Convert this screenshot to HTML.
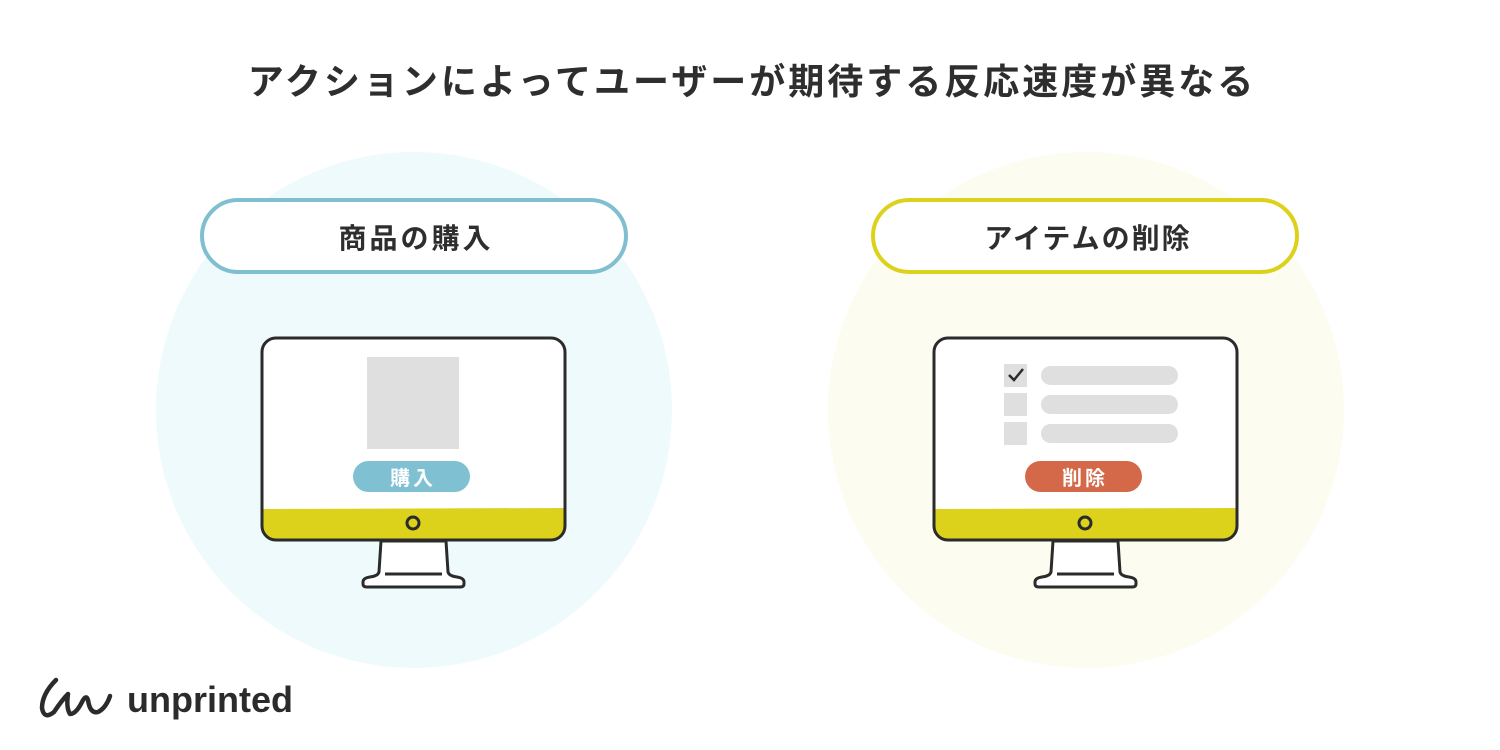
<!DOCTYPE html>
<html><head><meta charset="utf-8"><style>
body{margin:0;width:1500px;height:750px;background:#fff;overflow:hidden;font-family:"Liberation Sans","Noto Sans CJK JP",sans-serif}
</style></head><body>
<svg width="1500" height="750" xmlns="http://www.w3.org/2000/svg" style="position:absolute;left:0;top:0">
<text x="752" y="94" text-anchor="middle" font-size="36" font-weight="bold" fill="#2e2e2e" font-family="Liberation Sans, Noto Sans CJK JP, sans-serif" letter-spacing="3">アクションによってユーザーが期待する反応速度が異なる</text>
<circle cx="414" cy="410" r="258" fill="#effafc"/>
<circle cx="1086" cy="410" r="258" fill="#fcfcf1"/>
<rect x="202" y="200" width="424" height="72" rx="36" fill="#fff" stroke="#7fbfd0" stroke-width="4"/>
<rect x="873" y="200" width="424" height="72" rx="36" fill="#fff" stroke="#dcd21c" stroke-width="4"/>
<text x="416" y="248" text-anchor="middle" font-size="28" font-weight="bold" fill="#2e2e2e" font-family="Liberation Sans, Noto Sans CJK JP, sans-serif" letter-spacing="3">商品の購入</text>
<text x="1088" y="248" text-anchor="middle" font-size="28" font-weight="bold" fill="#2e2e2e" font-family="Liberation Sans, Noto Sans CJK JP, sans-serif" letter-spacing="2">アイテムの削除</text>
<g id="mon">
<path d="M381 541 L379 572 Q378 576 370 577 Q363 578 363 582 L363 584 Q363 587 367 587 L460 587 Q464 587 464 584 L464 582 Q464 578 457 577 Q449 576 448 572 L446 541 Z" fill="#fff" stroke="#2b2b2b" stroke-width="3"/>
<line x1="385" y1="574" x2="442" y2="574" stroke="#2b2b2b" stroke-width="3"/>
<rect x="262" y="338" width="303" height="202" rx="14" fill="#fff"/>
<path d="M262 509 L565 508 L565 526 Q565 540 551 540 L276 540 Q262 540 262 526 Z" fill="#dcd21c"/>
<rect x="262" y="338" width="303" height="202" rx="14" fill="none" stroke="#2b2b2b" stroke-width="3"/>
<circle cx="413" cy="523" r="6" fill="none" stroke="#2b2b2b" stroke-width="3"/>
</g>
<use href="#mon" x="672"/>
<rect x="367" y="357" width="92" height="92" fill="#dfdfdf"/>
<rect x="353" y="461" width="117" height="31" rx="15.5" fill="#7fc1d3"/>
<text x="413" y="485" text-anchor="middle" font-size="20" font-weight="bold" fill="#fff" letter-spacing="3" font-family="Liberation Sans, Noto Sans CJK JP, sans-serif">購入</text>
<rect x="1004" y="364" width="23" height="23" fill="#dfdfdf"/>
<rect x="1004" y="393" width="23" height="23" fill="#dfdfdf"/>
<rect x="1004" y="422" width="23" height="23" fill="#dfdfdf"/>
<path d="M1009 375 L1014 380 L1023 369" fill="none" stroke="#2b2b2b" stroke-width="2.5"/>
<rect x="1041" y="366" width="137" height="19" rx="9.5" fill="#dfdfdf"/>
<rect x="1041" y="395" width="137" height="19" rx="9.5" fill="#dfdfdf"/>
<rect x="1041" y="424" width="137" height="19" rx="9.5" fill="#dfdfdf"/>
<rect x="1025" y="461" width="117" height="31" rx="15.5" fill="#d4694a"/>
<text x="1085" y="485" text-anchor="middle" font-size="20" font-weight="bold" fill="#fff" letter-spacing="3" font-family="Liberation Sans, Noto Sans CJK JP, sans-serif">削除</text>
<path d="M56 680 Q42 694 42 708 Q44 720 54 712 Q62 700 68 694 Q66 708 70 714 Q76 714 82 702 Q86 694 88 700 Q90 714 98 712 Q106 708 110 696" fill="none" stroke="#2b2b2b" stroke-width="4.5" stroke-linecap="round" stroke-linejoin="round"/>
<text x="127" y="712" font-size="36" font-weight="bold" fill="#2b2b2b" font-family="Liberation Sans, sans-serif">unprinted</text>
</svg>
</body></html>
